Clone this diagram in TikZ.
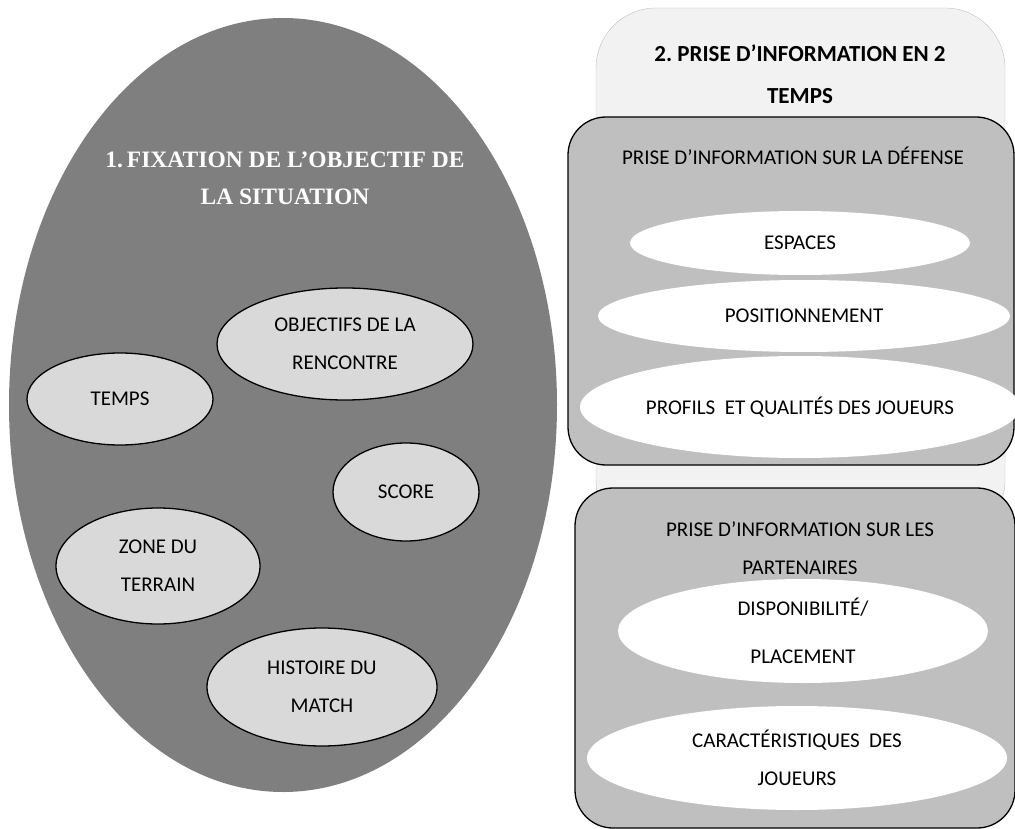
\documentclass[tikz,border=0pt]{standalone}
\usepackage{fontspec}
\setmainfont{Carlito}
\newfontfamily\titlefont{Liberation Serif}
\usepackage{tikz}
\usetikzlibrary{shapes.geometric}
\definecolor{outergray}{HTML}{7F7F7F}
\definecolor{innergray}{HTML}{D9D9D9}
\definecolor{panelgray}{HTML}{BFBFBF}
\definecolor{backgray}{HTML}{F2F2F2}
\newcommand{\txtsize}{\fontsize{21}{38}\selectfont}
\frenchspacing

\begin{document}
\begin{tikzpicture}[x=1pt, y=-1pt,
    bubble/.style={ellipse, draw=black, line width=1.3pt, fill=innergray, inner sep=0pt, align=center, font=\txtsize},
    whitebubble/.style={ellipse, fill=white, inner sep=0pt, align=center, font=\txtsize},
    panel/.style={rectangle, draw=black, line width=1.3pt, fill=panelgray, rounded corners=38pt},
    label/.style={align=center, font=\txtsize}]
    \useasboundingbox (0,0) rectangle (1015,829);

    % left part
    \node[ellipse, fill=outergray, minimum width=548pt, minimum height=774pt] (situation) at (283,405) {};
    \node[align=center, text=white, font=\titlefont\bfseries\fontsize{23.5}{37}\selectfont] (title1) at (285,178) {1.\,FIXATION DE L’OBJECTIF DE\\LA SITUATION};

    \node[bubble, minimum width=256pt, minimum height=112pt] (objectifs) at (345,344) {OBJECTIFS DE LA\\RENCONTRE};
    \node[bubble, minimum width=186pt, minimum height=92pt] (temps) at (120,399) {TEMPS};
    \node[bubble, minimum width=146pt, minimum height=98pt] (score) at (406,492) {SCORE};
    \node[bubble, minimum width=204pt, minimum height=116pt] (zone) at (158,566) {ZONE DU\\TERRAIN};
    \node[bubble, minimum width=230pt, minimum height=118pt] (histoire) at (322,687) {HISTOIRE DU\\MATCH};

    % right part
    \draw[draw=panelgray, fill=backgray, rounded corners=60pt] (596,8) rectangle (1005,540);
    \node[align=center, font=\bfseries\fontsize{23}{42}\selectfont] (title2) at (800,74) {2. PRISE D’INFORMATION EN 2\\TEMPS};

    \node[panel, minimum width=446pt, minimum height=348pt] (defense) at (791,291) {};
    \node[label] (defenselbl) at (793,156) {PRISE D’INFORMATION SUR LA DÉFENSE};
    \node[whitebubble, minimum width=340pt, minimum height=64pt] (espaces) at (800,243) {ESPACES};
    \node[whitebubble, minimum width=412pt, minimum height=72pt] (position) at (804,316) {POSITIONNEMENT};
    \node[whitebubble, minimum width=440pt, minimum height=102pt] (profils) at (800,407) {PROFILS\ \ ET QUALITÉS DES JOUEURS};

    \node[panel, minimum width=440pt, minimum height=340pt] (partenaires) at (795,658) {};
    \node[label] (partenaireslbl) at (800,548) {PRISE D’INFORMATION SUR LES\\PARTENAIRES};
    \node[whitebubble, minimum width=370pt, minimum height=104pt, font=\fontsize{21}{48}\selectfont] (dispo) at (803,631) {DISPONIBILITÉ/\\PLACEMENT};
    \node[whitebubble, minimum width=420pt, minimum height=104pt] (carac) at (797,758) {CARACTÉRISTIQUES\ \ DES\\JOUEURS};
\end{tikzpicture}
\end{document}
